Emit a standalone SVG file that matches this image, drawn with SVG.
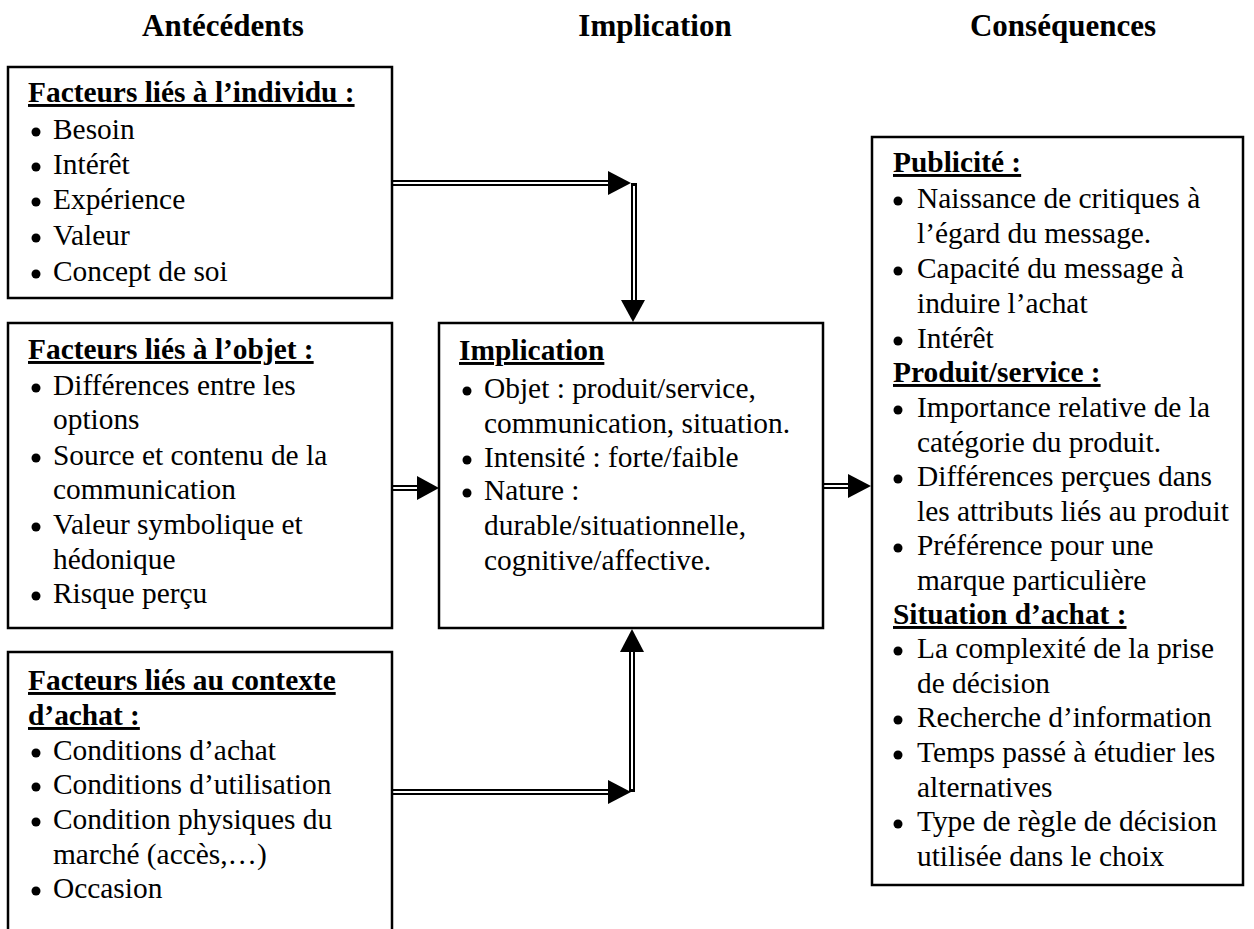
<svg xmlns="http://www.w3.org/2000/svg" width="1254" height="929" viewBox="0 0 1254 929">
<style>
.box{fill:#fff;stroke:#000;stroke-width:2.5}
.hdr{font-family:"Liberation Serif","Times New Roman",serif;font-weight:bold;font-size:31px;fill:#000;text-anchor:middle}
.t{font-family:"Liberation Serif","Times New Roman",serif;font-size:29.4px;fill:#000}
.b{font-family:"Liberation Serif","Times New Roman",serif;font-size:29.4px;font-weight:bold;fill:#000;text-decoration:underline}
.dot{fill:#000}
.lo{stroke:#000;stroke-width:6;fill:none}
.li{stroke:#fff;stroke-width:2;fill:none}
.ah{fill:#000}
</style>
<defs>
<circle id="bul" r="4.5" class="dot"/>
</defs>

<g id="headers">
<text class="hdr" x="223" y="36">Antécédents</text>
<text class="hdr" x="655" y="36">Implication</text>
<text class="hdr" x="1063" y="36">Conséquences</text>
</g>

<g id="connectors">
<!-- top: box1 -> down into implication -->
<line class="lo" x1="393" y1="183" x2="612" y2="183"/>
<line class="li" x1="393" y1="183" x2="612" y2="183"/>
<polygon class="ah" points="608,171 631,183 608,195"/>
<line class="lo" x1="634" y1="183" x2="634" y2="302"/>
<line class="li" x1="634" y1="186" x2="634" y2="302"/>
<polygon class="ah" points="621,300 645,300 633,322"/>
<!-- middle: box2 -> implication -->
<line class="lo" x1="393" y1="488" x2="420" y2="488"/>
<line class="li" x1="393" y1="488" x2="420" y2="488"/>
<polygon class="ah" points="417,476 439,488 417,500"/>
<!-- bottom: box3 -> up into implication -->
<line class="lo" x1="393" y1="792" x2="612" y2="792"/>
<line class="li" x1="393" y1="792" x2="612" y2="792"/>
<polygon class="ah" points="608,780 631,792 608,804"/>
<line class="lo" x1="632" y1="792" x2="632" y2="648"/>
<line class="li" x1="632" y1="789" x2="632" y2="648"/>
<polygon class="ah" points="620,652 644,652 632,629"/>
<!-- right: implication -> consequences -->
<line class="lo" x1="824" y1="486" x2="852" y2="486"/>
<line class="li" x1="824" y1="486" x2="852" y2="486"/>
<polygon class="ah" points="848,474 871,486 848,498"/>
</g>

<g id="node-individu">
<rect class="box" x="8" y="67" width="384" height="231"/>
<text class="b" x="28" y="102">Facteurs liés à l’individu :</text>
<use href="#bul" x="36" y="132"/><text class="t" x="53" y="139">Besoin</text>
<use href="#bul" x="36" y="167"/><text class="t" x="53" y="174">Intérêt</text>
<use href="#bul" x="36" y="202"/><text class="t" x="53" y="209">Expérience</text>
<use href="#bul" x="36" y="238"/><text class="t" x="53" y="245">Valeur</text>
<use href="#bul" x="36" y="274"/><text class="t" x="53" y="281">Concept de soi</text>
</g>

<g id="node-objet">
<rect class="box" x="8" y="323" width="384" height="305"/>
<text class="b" x="28" y="359">Facteurs liés à l’objet :</text>
<use href="#bul" x="36" y="388"/><text class="t" x="53" y="395">Différences entre les</text>
<text class="t" x="53" y="429">options</text>
<use href="#bul" x="36" y="458"/><text class="t" x="53" y="465">Source et contenu de la</text>
<text class="t" x="53" y="499">communication</text>
<use href="#bul" x="36" y="527"/><text class="t" x="53" y="534">Valeur symbolique et</text>
<text class="t" x="53" y="569">hédonique</text>
<use href="#bul" x="36" y="596"/><text class="t" x="53" y="603">Risque perçu</text>
</g>

<g id="node-contexte">
<rect class="box" x="8" y="652" width="384" height="290"/>
<text class="b" x="28" y="690">Facteurs liés au contexte</text>
<text class="b" x="28" y="725">d’achat :</text>
<use href="#bul" x="36" y="753"/><text class="t" x="53" y="760">Conditions d’achat</text>
<use href="#bul" x="36" y="787"/><text class="t" x="53" y="794">Conditions d’utilisation</text>
<use href="#bul" x="36" y="822"/><text class="t" x="53" y="829">Condition physiques du</text>
<text class="t" x="53" y="864">marché (accès,…)</text>
<use href="#bul" x="36" y="891"/><text class="t" x="53" y="898">Occasion</text>
</g>

<g id="node-implication">
<rect class="box" x="439" y="323" width="384" height="305"/>
<text class="b" x="459" y="360">Implication</text>
<use href="#bul" x="467" y="391"/><text class="t" x="484" y="398">Objet : produit/service,</text>
<text class="t" x="484" y="433">communication, situation.</text>
<use href="#bul" x="467" y="460"/><text class="t" x="484" y="467">Intensité : forte/faible</text>
<use href="#bul" x="467" y="493"/><text class="t" x="484" y="500">Nature :</text>
<text class="t" x="484" y="535">durable/situationnelle,</text>
<text class="t" x="484" y="570">cognitive/affective.</text>
</g>

<g id="node-consequences">
<rect class="box" x="872" y="137" width="371" height="748"/>
<text class="b" x="893" y="172">Publicité :</text>
<use href="#bul" x="898" y="201"/><text class="t" x="917" y="208">Naissance de critiques à</text>
<text class="t" x="917" y="243">l’égard du message.</text>
<use href="#bul" x="898" y="271"/><text class="t" x="917" y="278">Capacité du message à</text>
<text class="t" x="917" y="313">induire l’achat</text>
<use href="#bul" x="898" y="341"/><text class="t" x="917" y="348">Intérêt</text>
<text class="b" x="893" y="382">Produit/service :</text>
<use href="#bul" x="898" y="410"/><text class="t" x="917" y="417">Importance relative de la</text>
<text class="t" x="917" y="452">catégorie du produit.</text>
<use href="#bul" x="898" y="479"/><text class="t" x="917" y="486">Différences perçues dans</text>
<text class="t" x="917" y="521">les attributs liés au produit</text>
<use href="#bul" x="898" y="548"/><text class="t" x="917" y="555">Préférence pour une</text>
<text class="t" x="917" y="590">marque particulière</text>
<text class="b" x="893" y="624">Situation d’achat :</text>
<use href="#bul" x="898" y="651"/><text class="t" x="917" y="658">La complexité de la prise</text>
<text class="t" x="917" y="693">de décision</text>
<use href="#bul" x="898" y="720"/><text class="t" x="917" y="727">Recherche d’information</text>
<use href="#bul" x="898" y="755"/><text class="t" x="917" y="762">Temps passé à étudier les</text>
<text class="t" x="917" y="797">alternatives</text>
<use href="#bul" x="898" y="824"/><text class="t" x="917" y="831">Type de règle de décision</text>
<text class="t" x="917" y="866">utilisée dans le choix</text>
</g>
</svg>
